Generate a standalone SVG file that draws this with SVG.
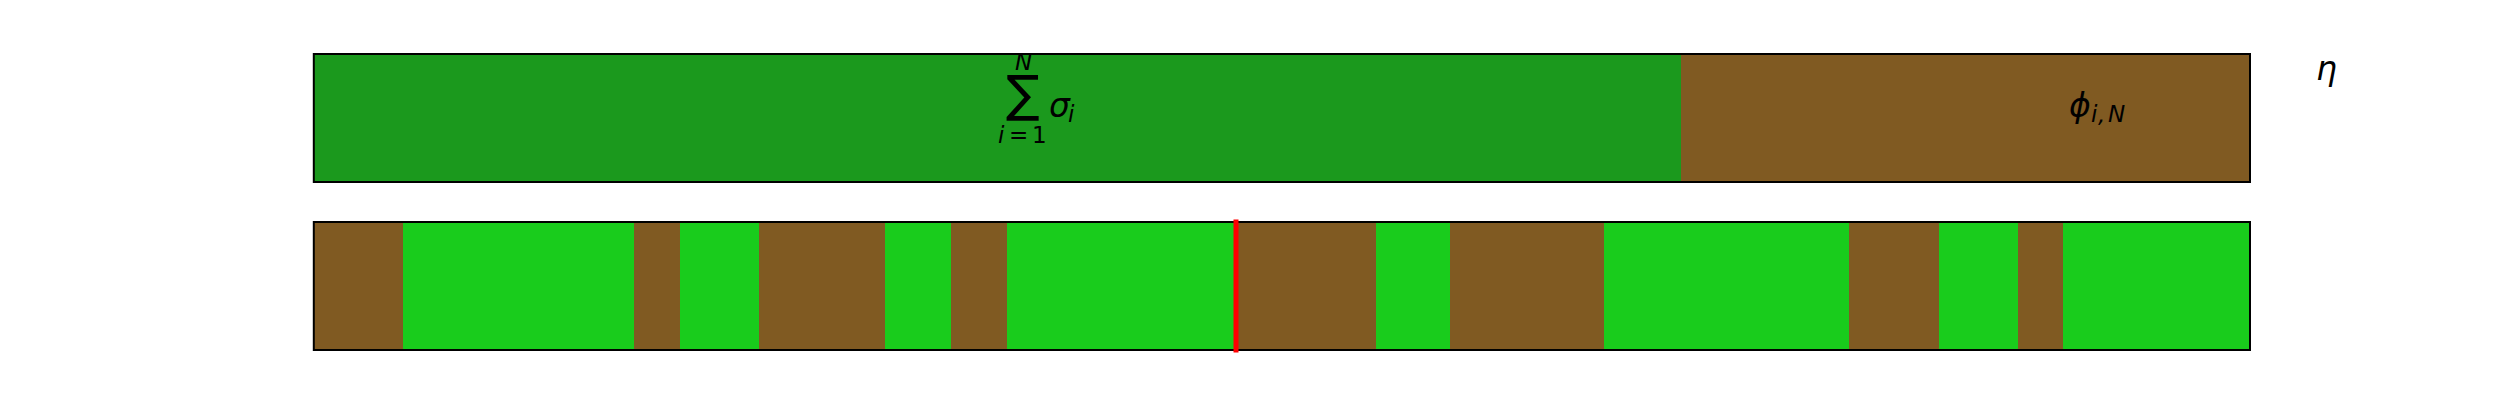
<svg xmlns="http://www.w3.org/2000/svg" width="2500" height="400" viewBox="0 0 2500 400">
<style>
.g1{fill:#1b991d}
.g2{fill:#19cc1c}
.br{fill:#805a22}
.box{fill:none;stroke:#000;stroke-width:2}
.m{font-family:"DejaVu Sans",sans-serif;fill:#000}
.it{font-style:italic}
.big{font-size:33px}
.sub{font-size:23px}
</style>
<rect width="2500" height="400" fill="#fff"/>
<g id="top-bar">
<rect class="g1" x="313.8" y="54" width="1367.2" height="128"/>
<rect class="br" x="1681" y="54" width="569" height="128"/>
<rect class="box" x="313.8" y="54" width="1936.2" height="128"/>
</g>
<g id="bottom-bar">
<rect class="br" x="313.8" y="222" width="89.2" height="128"/>
<rect class="g2" x="403" y="222" width="231" height="128"/>
<rect class="br" x="634" y="222" width="46" height="128"/>
<rect class="g2" x="680" y="222" width="79" height="128"/>
<rect class="br" x="759" y="222" width="126" height="128"/>
<rect class="g2" x="885" y="222" width="66" height="128"/>
<rect class="br" x="951" y="222" width="56" height="128"/>
<rect class="g2" x="1007" y="222" width="229" height="128"/>
<rect class="br" x="1236" y="222" width="140" height="128"/>
<rect class="g2" x="1376" y="222" width="74" height="128"/>
<rect class="br" x="1450" y="222" width="154" height="128"/>
<rect class="g2" x="1604" y="222" width="245" height="128"/>
<rect class="br" x="1849" y="222" width="90" height="128"/>
<rect class="g2" x="1939" y="222" width="79" height="128"/>
<rect class="br" x="2018" y="222" width="45" height="128"/>
<rect class="g2" x="2063" y="222" width="187" height="128"/>
<rect class="box" x="313.8" y="222" width="1936.2" height="128"/>
</g>
<g id="marker">
<line x1="1236" y1="219.5" x2="1236" y2="352.5" stroke="#ff0000" stroke-width="5"/>
</g>
<g id="label-sum">
<text class="m" font-size="50" x="1022.5" y="110.5" text-anchor="middle">∑</text>
<text class="m sub it" x="1023.5" y="70" text-anchor="middle">N</text>
<text class="m sub" y="143"><tspan class="it" x="998">i</tspan><tspan x="1009">=</tspan><tspan x="1032">1</tspan></text>
<text class="m big it" x="1049" y="117">σ</text>
<text class="m sub it" x="1068" y="122">i</text>
</g>
<g id="label-phi">
<text class="m big it" x="2069" y="117">ϕ</text>
<text class="m sub it" y="122"><tspan x="2091">i</tspan><tspan x="2098">,</tspan><tspan x="2108">N</tspan></text>
</g>
<g id="label-eta">
<text class="m big it" x="2316" y="80">η</text>
</g>
</svg>
